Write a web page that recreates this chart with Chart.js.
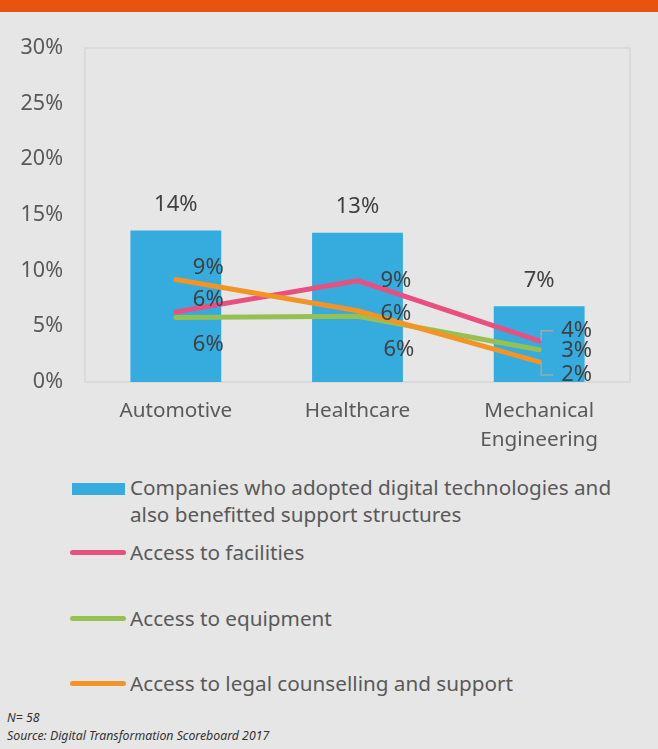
<!DOCTYPE html>
<html>
<head>
<meta charset="utf-8">
<script src="https://cdn.jsdelivr.net/npm/chart.js@4/dist/chart.umd.min.js"></script>
<style>
	body { margin: 0; background: #e6e6e6; font-family: 'Noto Sans', sans-serif; color: #595959; }
	.topbar { position: absolute; left: 0; top: 0; width: 658px; height: 12px; background: #e8530f; }
	.chart-box { position: absolute; left: 0; top: 0; width: 658px; height: 460px; }
	.legend { position: absolute; left: 70px; top: 474px; width: 588px; }
	.legend-item { position: absolute; left: 0; font-size: 20.7px; line-height: 27px; }
	.legend-item .mark { position: absolute; left: 0; }
	.legend-item .text { position: absolute; left: 60px; white-space: nowrap; }
	.footer { position: absolute; left: 7px; top: 709px; font-size: 12.3px; font-style: italic; color: #333; line-height: 18px; }
</style>
</head>
<body>
<div class="topbar"></div>
<div class="chart-box"><canvas id="supportChart"></canvas></div>
<div class="legend" id="legend"></div>
<div class="footer">N= 58<br>Source: Digital Transformation Scoreboard 2017</div>
<script>
const categories = ['Automotive', 'Healthcare', ['Mechanical', 'Engineering']];
const adoptedValues = [13.6, 13.4, 6.8];
const facilitiesValues = [6.3, 9.1, 3.7];
const equipmentValues = [5.8, 5.9, 2.9];
const legalValues = [9.2, 6.4, 1.8];
const yTicks = [0, 5, 10, 15, 20, 25, 30];

const seriesNames = [
	'Companies who adopted digital technologies and also benefitted support structures',
	'Access to facilities',
	'Access to equipment',
	'Access to legal counselling and support'
];
const colors = ['#35abde', '#e8507f', '#96c152', '#f39426'];

// label offsets from each point (dx, dy), per dataset
const labelOffsets = [
	[[0, -26], [0, -26], [0, -26]],
	[[17, -12], [23, 0], [22, -10]],
	[[17, 27], [26, 33], [22, 1]],
	[[17, -12], [23, 3], [22, 13]]
];

const boxPlugin = {
	id: 'plotBox',
	beforeDatasetsDraw(chart) {
		const a = chart.chartArea;
		const ctx = chart.ctx;
		ctx.save();
		ctx.strokeStyle = '#d6d6d6';
		ctx.lineWidth = 1.5;
		ctx.strokeRect(a.left, a.top, a.right - a.left, a.bottom - a.top);
		ctx.restore();
	}
};

const valueLabels = {
	id: 'valueLabels',
	afterDatasetsDraw(chart) {
		const ctx = chart.ctx;
		ctx.save();
		ctx.font = '22px "Noto Sans"';
		ctx.fillStyle = '#404040';
		ctx.textBaseline = 'middle';
		chart.data.datasets.forEach((ds, di) => {
			const meta = chart.getDatasetMeta(di);
			meta.data.forEach((el, i) => {
				const off = labelOffsets[di][i];
				const txt = Math.round(ds.data[i]) + '%';
				ctx.textAlign = di === 0 ? 'center' : 'left';
				const x = el.x + off[0];
				const y = el.y + off[1];
				ctx.fillText(txt, x, y);
				// bracket leader lines on the last category
				if (di !== 0 && di !== 2 && i === 2) {
					ctx.strokeStyle = '#a6a6a6';
					ctx.lineWidth = 1.5;
					ctx.beginPath();
					ctx.moveTo(el.x + 2, el.y);
					ctx.lineTo(el.x + 2, y);
					ctx.lineTo(el.x + 14, y);
					ctx.stroke();
				}
			});
		});
		ctx.restore();
	}
};

const lineDataset = (idx, values, order) => ({
	type: 'line',
	label: seriesNames[idx],
	data: values,
	borderColor: colors[idx],
	backgroundColor: colors[idx],
	borderWidth: 5,
	borderCapStyle: 'round',
	borderJoinStyle: 'round',
	pointRadius: 0,
	tension: 0,
	order: order
});

new Chart(document.getElementById('supportChart'), {
	type: 'bar',
	data: {
		labels: categories,
		datasets: [
			{
				label: seriesNames[0],
				data: adoptedValues,
				backgroundColor: colors[0],
				categoryPercentage: 1,
				barPercentage: 0.5,
				order: 4
			},
			lineDataset(1, facilitiesValues, 2),
			lineDataset(2, equipmentValues, 3),
			lineDataset(3, legalValues, 1)
		]
	},
	options: {
		responsive: true,
		maintainAspectRatio: false,
		animation: false,
		layout: { padding: { top: 48, right: 28, left: 0, bottom: 0 } },
		plugins: {
			legend: { display: false },
			tooltip: { enabled: false }
		},
		scales: {
			x: {
				grid: { display: false, drawTicks: false },
				border: { display: false },
				ticks: {
					color: '#595959',
					padding: 15,
					font: { family: 'Noto Sans', size: 20.7, lineHeight: 1.4 }
				},
				afterFit(scale) { scale.height = 78; }
			},
			y: {
				min: yTicks[0],
				max: yTicks[yTicks.length - 1],
				grid: { display: false, drawTicks: false },
				border: { display: false },
				afterBuildTicks(scale) { scale.ticks = yTicks.map(v => ({ value: v })); },
				ticks: {
					color: '#595959',
					padding: 22,
					font: { family: 'Noto Sans', size: 21.5 },
					callback: v => v + '%'
				},
				afterFit(scale) { scale.width = 85; }
			}
		}
	},
	plugins: [boxPlugin, valueLabels]
});

// html legend
const legend = document.getElementById('legend');
const legendTops = [0, 65, 131, 196];
seriesNames.forEach((name, i) => {
	const item = document.createElement('div');
	item.className = 'legend-item';
	item.style.top = legendTops[i] + 'px';
	const mark = document.createElement('div');
	mark.className = 'mark';
	if (i === 0) {
		mark.style.cssText = `left:2px;top:9px;width:53px;height:12px;background:${colors[i]}`;
	} else {
		mark.style.cssText = `left:0;top:11px;width:56px;height:5px;border-radius:3px;background:${colors[i]}`;
	}
	const text = document.createElement('div');
	text.className = 'text';
	if (i === 0) {
		text.innerHTML = 'Companies who adopted digital technologies and<br>also benefitted support structures';
	} else {
		text.textContent = name;
	}
	item.appendChild(mark);
	item.appendChild(text);
	legend.appendChild(item);
});
</script>
</body>
</html>
